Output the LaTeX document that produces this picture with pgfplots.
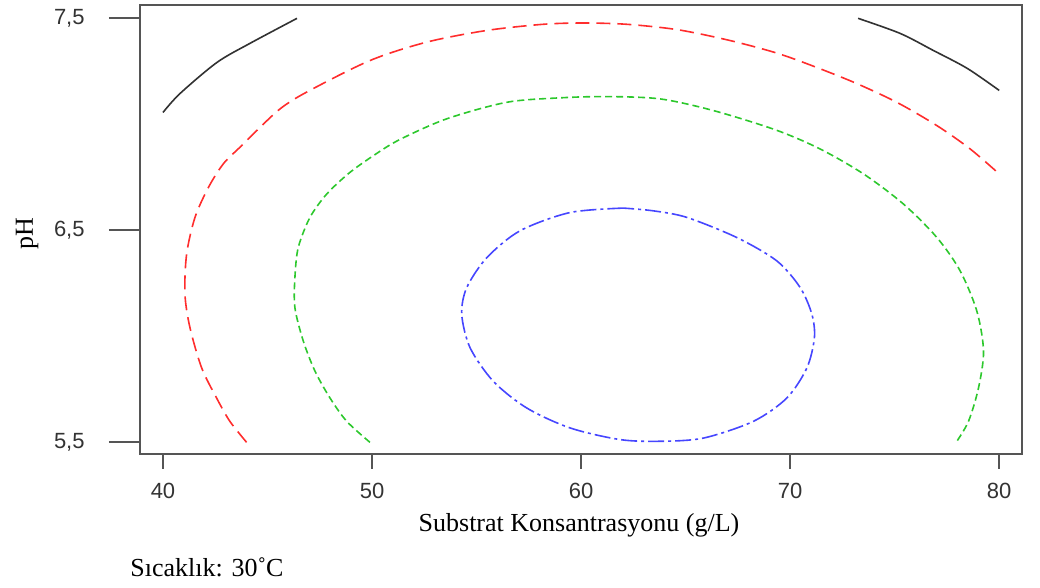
\documentclass[border=0pt]{standalone}
\usepackage{pgfplots}
\pgfplotsset{compat=1.18}
\usepackage{fontspec}
\setmainfont{Liberation Serif}
\newfontfamily\arialf{Liberation Sans}
\definecolor{cred}{RGB}{255,45,45}
\definecolor{cgreen}{RGB}{45,200,45}
\definecolor{cblue}{RGB}{70,70,255}
\definecolor{cblack}{RGB}{50,50,50}
\definecolor{frame}{RGB}{85,85,85}
\begin{document}
\begin{tikzpicture}
\useasboundingbox (-70pt,-67pt) rectangle (450pt,227pt);
\begin{axis}[
  at={(0,0)}, anchor=south west,
  scale only axis, width=441pt, height=224.5pt,
  xmin=38.9, xmax=81.09, ymin=5.445, ymax=7.563,
  axis line style={frame, line width=1pt},
  xtick={40,50,60,70,80}, xticklabels={40,50,60,70,80},
  ytick={5.5,6.5,7.5}, yticklabels={{5,5},{6,5},{7,5}},
  tick align=outside, tickpos=left,
  major tick length=15.5pt,
  tick style={frame, line width=1pt},
  xtick style={/pgfplots/major tick length=7.5pt},
  ticklabel style={font=\arialf\fontsize{11}{13}\selectfont, text=black!80, inner sep=0pt},
  xticklabel style={anchor=north, yshift=1pt},
  yticklabel style={anchor=east, xshift=-12pt},
  /pgf/number format/assume math mode=true,
  clip=false,
]
\addplot[cblack, line width=0.8pt, smooth, tension=0.5] coordinates {(40,7.056)(40.81,7.145)(42.58,7.292)(44.16,7.382)(46.41,7.5)};
\addplot[cblack, line width=0.8pt, smooth, tension=0.5] coordinates {(73.25,7.5)(75.26,7.429)(76.84,7.349)(78.47,7.264)(80,7.16)};
\addplot[cred, line width=0.8pt, smooth, tension=0.5, dash pattern=on 7pt off 3.5pt] coordinates {
(44.0,5.5)(43.2,5.599)(42.57,5.708)(41.85,5.851)(41.29,6.041)(41.05,6.199)(41.13,6.388)(41.53,6.561)(42.17,6.702)(42.88,6.813)(43.68,6.892)(44.48,6.970)(45.6,7.073)(46.87,7.152)(49.9,7.301)(52.62,7.388)(55.49,7.443)(58.19,7.472)(60.11,7.478)(62.18,7.472)(64.58,7.447)(66.97,7.399)(69.2,7.341)(70.8,7.286)(73.03,7.199)(75.1,7.104)(77.02,6.994)(78.61,6.884)(80,6.766)};
\addplot[cgreen, line width=0.8pt, smooth, tension=0.5, dash pattern=on 3.5pt off 2pt] coordinates {
(49.9,5.5)(48.79,5.599)(47.99,5.709)(47.27,5.836)(46.71,5.978)(46.31,6.135)(46.31,6.277)(46.47,6.419)(47.03,6.561)(47.83,6.671)(48.9,6.77)(50.06,6.852)(51.3,6.927)(53.57,7.026)(56.44,7.104)(58.99,7.125)(61.23,7.131)(63.78,7.120)(66.33,7.065)(69.3,6.974)(71.43,6.884)(73.51,6.766)(75.42,6.624)(77.02,6.466)(78.13,6.309)(78.93,6.119)(79.25,5.930)(79.01,5.757)(78.53,5.599)(77.94,5.5)};
\addplot[cblue, line width=0.8pt, smooth, tension=0.5, dash pattern=on 8pt off 2pt on 1.5pt off 2pt] coordinates {
(62.02,6.605)(59.47,6.584)(57.08,6.498)(55.49,6.371)(54.53,6.230)(54.29,6.104)(54.69,5.946)(55.8,5.788)(57.4,5.662)(59.47,5.568)(61.86,5.513)(63.78,5.505)(65.85,5.520)(68.24,5.599)(69.84,5.709)(70.8,5.851)(71.16,5.993)(71.04,6.104)(70.48,6.230)(69.36,6.356)(67.45,6.466)(65.06,6.561)(63.46,6.592)(62.02,6.605)};
\end{axis}
\node[anchor=base, rotate=90, font=\fontsize{13}{15}\selectfont, inner sep=0pt] at (-53.5pt,110pt) {pH};
\node[anchor=base, font=\fontsize{13}{15}\selectfont, inner sep=0pt] at (219.5pt,-38.9pt) {Substrat Konsantrasyonu (g/L)};
\node[anchor=base west, font=\fontsize{13}{15}\selectfont, inner sep=0pt] at (-5pt,-61.5pt) {Sıcaklık: 30˚C};
\end{tikzpicture}
\end{document}
